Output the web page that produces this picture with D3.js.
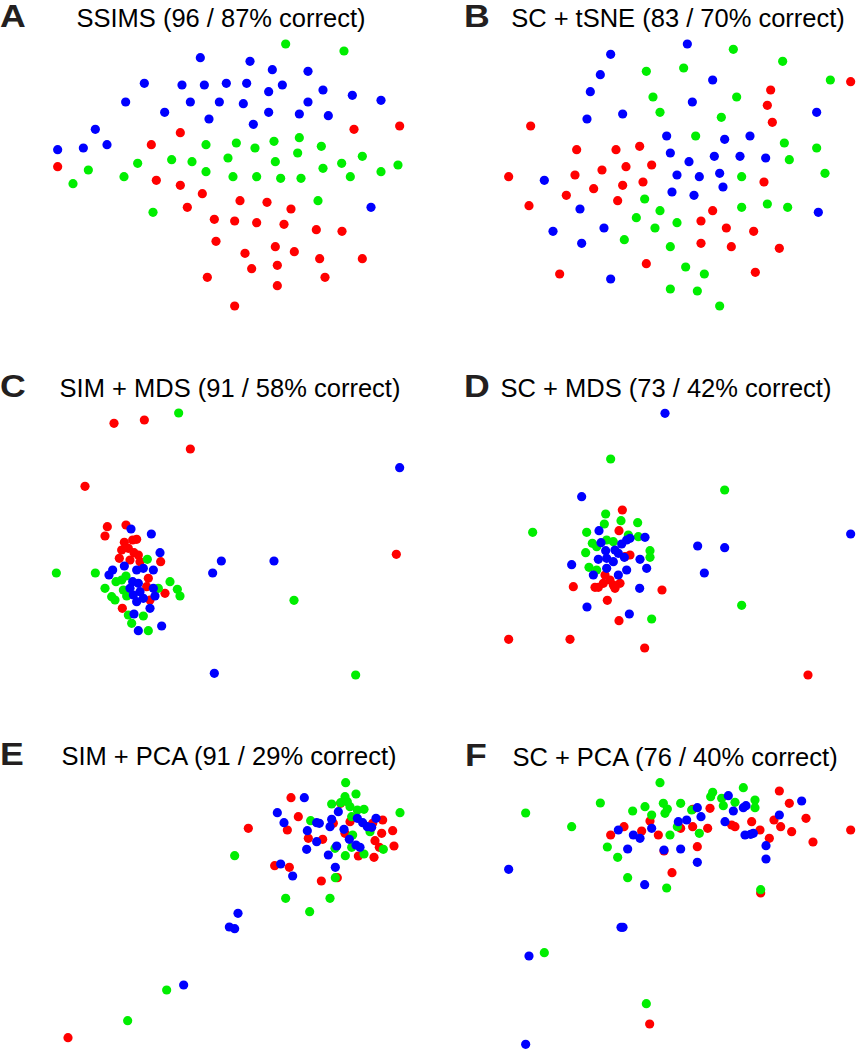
<!DOCTYPE html>
<html>
<head>
<meta charset="utf-8">
<script src="https://cdn.jsdelivr.net/npm/d3@7"></script>
<style>
  body { margin: 0; background: #fff; }
  svg { display: block; }
</style>
</head>
<body>
<div id="chart"></div>
<script>
// Embedding coordinates (arbitrary units, y grows downward)
const panelLetters = ["A", "B", "C", "D", "E", "F"];
const panelTitles = [
  "SSIMS (96 / 87% correct)",
  "SC + tSNE (83 / 70% correct)",
  "SIM + MDS (91 / 58% correct)",
  "SC + MDS (73 / 42% correct)",
  "SIM + PCA (91 / 29% correct)",
  "SC + PCA (76 / 40% correct)"
];

// A: SSIMS
const aRed = [[1062,388],[1199,378],[541,398],[454,434],[173,500],[469,541],[541,556],[607,581],[720,602],[801,607],[562,622],[873,627],[643,658],[704,663],[770,668],[852,673],[949,689],[1026,694],[648,724],[826,740],[883,755],[735,760],[959,776],[1087,776],[755,806],[832,796],[622,832],[975,832],[832,857],[704,918]];
const aGreen = [[857,132],[1032,153],[898,413],[822,424],[709,429],[618,434],[765,444],[964,439],[893,459],[1087,469],[684,474],[515,479],[576,485],[826,485],[413,490],[1025,490],[1194,495],[969,505],[265,510],[618,515],[1143,515],[372,530],[699,530],[770,530],[842,535],[903,535],[1051,530],[219,551],[954,602],[459,637]];
const aBlue = [[601,173],[750,184],[817,209],[924,214],[433,250],[546,255],[613,255],[679,250],[740,250],[847,255],[806,275],[969,270],[1057,286],[1143,301],[377,306],[571,306],[658,306],[730,311],[924,306],[494,337],[806,337],[898,342],[985,347],[627,357],[760,373],[286,388],[321,434],[250,444],[173,449],[1113,622]];

// B: SC + tSNE
const bRed = [[1268,245],[1028,270],[1018,316],[1033,367],[308,378],[446,449],[564,449],[635,439],[594,500],[671,495],[522,510],[441,525],[242,530],[645,546],[584,556],[1008,546],[497,566],[415,586],[569,602],[303,617],[854,632],[819,663],[895,684],[977,694],[819,730],[910,740],[1054,745],[655,791],[982,817],[395,822]];
const bGreen = [[916,148],[1064,184],[767,204],[655,214],[1207,240],[675,291],[926,291],[696,337],[880,352],[803,408],[1069,429],[1166,444],[1084,479],[941,530],[1191,520],[650,597],[941,622],[1018,612],[1079,622],[696,632],[625,653],[747,668],[681,684],[589,719],[727,740],[773,801],[829,822],[727,867],[808,873],[875,918]];
const bBlue = [[778,132],[548,163],[517,224],[854,240],[487,275],[793,306],[584,342],[1166,337],[477,357],[716,408],[890,418],[966,408],[727,459],[859,469],[936,469],[1013,474],[783,485],[349,541],[747,525],[814,530],[875,520],[885,561],[732,576],[798,586],[456,627],[1171,637],[528,684],[375,694],[461,730],[548,837]];

// C: SIM + MDS
const cRed = [[342,250],[433,240],[571,327],[255,439],[1189,643],[322,560],[315,588],[378,555],[373,607],[398,600],[410,598],[365,630],[385,625],[402,638],[415,645],[358,655],[390,660],[420,665],[482,665],[445,715],[440,740],[495,760],[450,780],[367,805]];
const cGreen = [[536,219],[169,699],[286,699],[882,781],[1067,1005],[442,658],[348,725],[365,720],[378,708],[510,725],[532,748],[540,768],[315,745],[335,770],[345,780],[370,750],[380,768],[475,745],[385,825],[395,850],[430,828],[445,872]];
const cBlue = [[1199,383],[664,663],[822,663],[638,699],[643,1000],[393,567],[454,582],[480,638],[338,690],[327,705],[373,678],[410,690],[430,685],[460,690],[398,725],[390,745],[415,730],[400,765],[420,755],[430,775],[460,745],[465,768],[410,785],[450,805],[402,822],[415,872],[485,858]];

// D: SC + MDS
const dRed = [[436,740],[702,750],[538,781],[573,842],[242,898],[426,898],[650,924],[1140,1005],[583,510],[573,572],[606,645],[591,650],[531,705],[546,720],[526,730],[556,735],[576,730],[511,742],[561,745],[501,742]];
const dGreen = [[548,357],[890,450],[314,577],[941,796],[671,837],[533,522],[579,542],[529,552],[629,548],[476,577],[601,585],[631,590],[493,610],[506,620],[536,600],[556,605],[473,638],[666,632],[666,652],[483,682],[506,690]];
const dBlue = [[711,220],[461,470],[1268,582],[809,618],[890,623],[431,674],[829,699],[635,745],[477,801],[604,822],[513,572],[651,592],[519,608],[533,632],[561,630],[581,612],[596,600],[606,595],[511,658],[536,655],[556,665],[571,640],[589,652],[636,658],[656,685],[536,685],[596,690],[571,705],[496,705]];

// E: SIM + PCA
const eRed = [[745,415],[824,527],[868,532],[964,573],[1012,563],[204,1043],[873,323],[1022,340],[895,380],[862,420],[1000,400],[1148,390],[1118,400],[1050,395],[1035,430],[1145,430],[1178,422],[925,445],[968,448],[1125,452],[1182,468],[1138,472],[1075,498],[1122,502]];
const eGreen = [[704,497],[857,625],[990,625],[929,665],[1006,563],[500,900],[383,992],[1037,278],[1068,312],[1035,320],[1022,338],[1042,335],[995,342],[1050,350],[1072,360],[1092,358],[1200,368],[932,392],[1055,380],[1110,425],[1058,435],[1150,478],[1005,475],[1055,472],[1036,497],[1092,492]];
const eBlue = [[842,522],[878,558],[1006,532],[714,670],[688,711],[704,716],[551,885],[913,323],[1015,365],[832,368],[852,398],[950,398],[958,400],[995,388],[990,410],[1072,385],[1088,398],[1128,385],[1102,410],[1115,412],[1032,418],[922,422],[950,455],[1048,448],[1010,468],[1068,465],[1080,472],[920,478],[985,495]];

// F: SC + PCA
const fRed = [[1268,420],[732,548],[998,609],[665,1002],[666,393],[794,358],[588,410],[548,435],[641,423],[691,435],[758,415],[794,410],[708,483],[808,470],[846,355],[839,415],[911,405],[921,410],[971,395],[996,420],[1024,445],[1054,303],[1084,340],[1038,390],[1058,410],[1091,425],[1134,385],[1155,456]];
const fGreen = [[696,278],[517,339],[293,369],[431,410],[538,471],[569,502],[599,563],[716,594],[998,599],[349,788],[655,941],[614,363],[651,350],[671,375],[706,340],[758,340],[718,357],[711,370],[791,360],[726,435],[748,410],[814,430],[854,307],[848,320],[881,325],[886,347],[921,337],[946,293],[981,330],[981,353]];
const fBlue = [[242,538],[599,477],[650,584],[579,712],[585,712],[303,798],[293,1063],[808,353],[571,420],[616,435],[636,445],[671,415],[751,395],[776,390],[708,480],[758,477],[808,517],[819,380],[901,317],[916,363],[946,353],[954,347],[891,395],[951,435],[968,433],[976,430],[1014,467],[1014,507],[1121,333],[1054,375]];

const groupColors = { red: "#ff0000", green: "#00ee00", blue: "#0000ff" };

const width = 856;
const height = 1050;
const dotR = 4.6;
const fontFamily = "'Liberation Sans', Arial, Helvetica, sans-serif";

// panel boxes (page px) and title placement inside them
const panels = [
  { x0: 0,   y0: 0,   w: 428, h: 320, letterX: 0,  titleX: 221, baseY: 27, groups: [aRed, aGreen, aBlue] },
  { x0: 428, y0: 0,   w: 428, h: 320, letterX: 36, titleX: 250, baseY: 27, groups: [bRed, bGreen, bBlue] },
  { x0: 0,   y0: 340, w: 428, h: 350, letterX: 0,  titleX: 230, baseY: 57, groups: [cRed, cGreen, cBlue] },
  { x0: 428, y0: 340, w: 428, h: 350, letterX: 36, titleX: 238, baseY: 57, groups: [dRed, dGreen, dBlue] },
  { x0: 0,   y0: 690, w: 428, h: 360, letterX: 0,  titleX: 229, baseY: 75, groups: [eRed, eGreen, eBlue] },
  { x0: 428, y0: 690, w: 428, h: 360, letterX: 37, titleX: 247, baseY: 76, groups: [fRed, fGreen, fBlue] }
];
const groupNames = ["red", "green", "blue"];

const svg = d3
  .select("#chart")
  .append("svg")
  .attr("width", width)
  .attr("height", height);

panels.forEach((p, i) => {
  // 3 embedding units per page pixel
  const x = d3.scaleLinear().domain([0, p.w * 3]).range([p.x0, p.x0 + p.w]);
  const y = d3.scaleLinear().domain([0, p.h * 3]).range([p.y0, p.y0 + p.h]);

  const g = svg.append("g").attr("class", "panel");

  p.groups.forEach((pts, k) => {
    g.append("g")
      .selectAll("circle")
      .data(pts)
      .join("circle")
      .attr("cx", d => x(d[0]))
      .attr("cy", d => y(d[1]))
      .attr("r", dotR)
      .attr("fill", groupColors[groupNames[k]]);
  });

  // panel letter
  g.append("text")
    .attr("transform", `translate(${p.x0 + p.letterX},${p.y0 + p.baseY}) scale(1.15,1)`)
    .attr("font-family", fontFamily)
    .attr("font-weight", "bold")
    .attr("font-size", "31px")
    .attr("fill", "#231f20")
    .text(panelLetters[i]);

  // title
  g.append("text")
    .attr("x", p.x0 + p.titleX)
    .attr("y", p.y0 + p.baseY)
    .attr("text-anchor", "middle")
    .attr("font-family", fontFamily)
    .attr("font-size", "25.5px")
    .attr("fill", "#000")
    .text(panelTitles[i]);
});
</script>
</body>
</html>
